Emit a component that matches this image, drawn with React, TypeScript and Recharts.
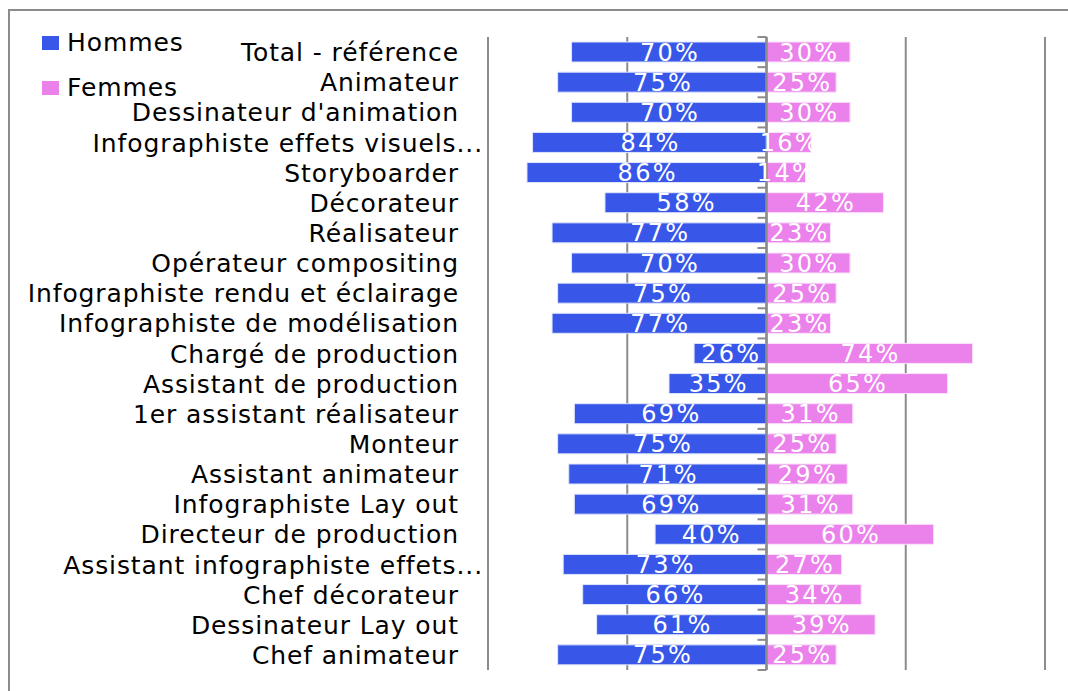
import { BarChart, Bar, XAxis, YAxis, CartesianGrid, ReferenceLine, LabelList } from "recharts"

const categories = [
  "Total - référence",
  "Animateur",
  "Dessinateur d'animation",
  "Infographiste effets visuels...",
  "Storyboarder",
  "Décorateur",
  "Réalisateur",
  "Opérateur compositing",
  "Infographiste rendu et éclairage",
  "Infographiste de modélisation",
  "Chargé de production",
  "Assistant de production",
  "1er assistant réalisateur",
  "Monteur",
  "Assistant animateur",
  "Infographiste Lay out",
  "Directeur de production",
  "Assistant infographiste effets...",
  "Chef décorateur",
  "Dessinateur Lay out",
  "Chef animateur",
]

const hommes = [70, 75, 70, 84, 86, 58, 77, 70, 75, 77, 26, 35, 69, 75, 71, 69, 40, 73, 66, 61, 75]
const femmes = [30, 25, 30, 16, 14, 42, 23, 30, 25, 23, 74, 65, 31, 25, 29, 31, 60, 27, 34, 39, 25]

const xTicks = [-100, -50, 0, 50, 100]

const BLUE = "#3857e9"
const PINK = "#eb82eb"
const GRID = "#8c8c8c"

const data = categories.map((name, i) => ({
  name,
  hommes: -hommes[i],
  femmes: femmes[i],
}))

const pct = (v: any) => `${Math.abs(Number(v))}%`

function CategoryTick(props: any) {
  const { x, y, payload } = props
  const label: string = payload.value
  const shift = label.endsWith("...") ? 24 : 0
  return (
    <text
      x={x - 21 + shift}
      y={y}
      dy={9}
      textAnchor="end"
      fill="#000"
      fontSize={25}
      letterSpacing={0.9}
    >
      {label}
    </text>
  )
}

// center axis with small ticks between categories
function CenterAxis(props: any) {
  const { x1, y1, y2 } = props
  const n = categories.length
  const step = (y2 - y1) / n
  const marks = []
  for (let i = 0; i <= n; i++) {
    const yy = y1 + i * step
    marks.push(<line key={i} x1={x1 - 9} x2={x1} y1={yy} y2={yy} stroke={GRID} strokeWidth={2} />)
  }
  return (
    <g>
      <line x1={x1} x2={x1} y1={y1} y2={y2} stroke={GRID} strokeWidth={2.5} />
      {marks}
    </g>
  )
}

function LegendBox() {
  const items = [
    { label: "Hommes", color: BLUE, top: 0 },
    { label: "Femmes", color: PINK, top: 45 },
  ]
  return (
    <div style={{ position: "absolute", left: 42, top: 28, width: 180, height: 80 }}>
      {items.map((it) => (
        <div key={it.label} style={{ position: "absolute", left: 0, top: it.top, display: "flex", alignItems: "center" }}>
          <span style={{ display: "inline-block", width: 17, height: 14, background: it.color, marginRight: 8 }} />
          <span style={{ fontSize: 25, letterSpacing: 0.9, color: "#000" }}>{it.label}</span>
        </div>
      ))}
    </div>
  )
}

export default function App() {
  return (
    <div
      style={{
        position: "fixed",
        left: 0,
        top: 0,
        width: 1068,
        height: 691,
        overflow: "hidden",
        background: "#fff",
        fontFamily: "'DejaVu Sans', Verdana, sans-serif",
      }}
    >
      <div
        style={{
          position: "absolute",
          left: 8,
          top: 9,
          width: 1100,
          height: 720,
          borderLeft: "2px solid #8c8c8c",
          borderTop: "2px solid #8c8c8c",
        }}
      />
      <div style={{ position: "absolute", left: 0, top: 0 }}>
        <BarChart
          width={1068}
          height={691}
          data={data}
          layout="vertical"
          stackOffset="sign"
          barSize={20}
          margin={{ top: 37, right: 23, bottom: 21, left: 0 }}
        >
          <CartesianGrid horizontal={false} vertical stroke={GRID} strokeWidth={2} />
          <XAxis type="number" domain={[-100, 100]} ticks={xTicks} hide />
          <YAxis
            type="category"
            dataKey="name"
            width={488}
            axisLine={false}
            tickLine={false}
            interval={0}
            tick={<CategoryTick />}
          />
          <Bar dataKey="hommes" stackId="a" fill={BLUE} stroke="#dfe4fb" strokeWidth={1} isAnimationActive={false}>
            <LabelList dataKey="hommes" position="center" formatter={pct} fill="#fff" fontSize={24} letterSpacing={2.3} dx={1} />
          </Bar>
          <Bar dataKey="femmes" stackId="a" fill={PINK} stroke="#fbe3fb" strokeWidth={1} isAnimationActive={false}>
            <LabelList dataKey="femmes" position="center" formatter={pct} fill="#fff" fontSize={24} letterSpacing={2.3} dx={1} />
          </Bar>
          <ReferenceLine x={0} shape={<CenterAxis />} />
        </BarChart>
      </div>
      <LegendBox />
    </div>
  )
}
